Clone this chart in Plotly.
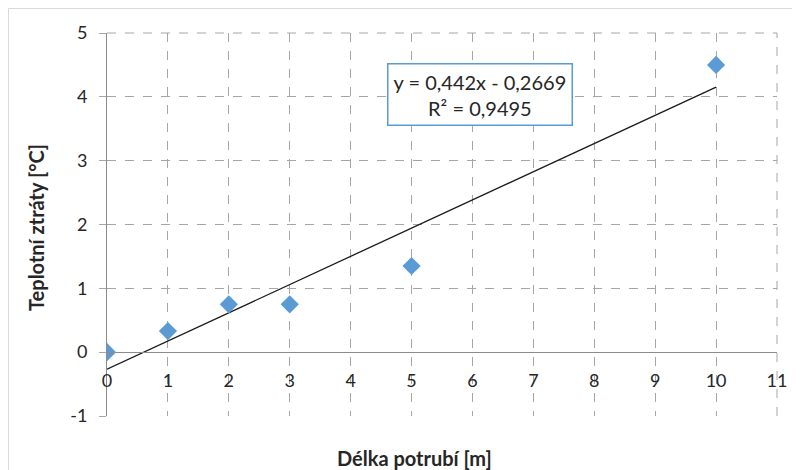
import plotly.graph_objects as go

# Data
lengths_m = [0, 1, 2, 3, 5, 10]
temp_loss_c = [0, 0.33, 0.75, 0.75, 1.35, 4.5]
trend_slope = 0.442
trend_intercept = -0.2669
trend_r2 = 0.9495
trend_x = [0, 10]
x_ticks = list(range(0, 12))
y_ticks = list(range(-1, 6))
y_tick_labels = [str(v) for v in y_ticks]

FONT = "Lato, 'Open Sans', sans-serif"
GRID = "#a6a6a6"
AXIS = "#8c8c8c"
OFF = 8  # page body margin

trend_y = [trend_slope * v + trend_intercept for v in trend_x]

fig = go.Figure()
fig.add_trace(go.Scatter(
    x=trend_x, y=trend_y, mode="lines",
    line=dict(color="#1a1a1a", width=1.3), xaxis="x", yaxis="y",
    hoverinfo="skip", showlegend=False))
fig.add_trace(go.Scatter(
    x=lengths_m, y=temp_loss_c, mode="markers",
    marker=dict(symbol="diamond", size=14, color="#5b9bd5"),
    xaxis="x", yaxis="y", showlegend=False))
# invisible trace on the labelled x-axis that crosses at y = 0
fig.add_trace(go.Scatter(
    x=[0, 11], y=[0, 0], mode="markers", marker=dict(opacity=0),
    xaxis="x2", yaxis="y", hoverinfo="skip", showlegend=False))

def fmt(v):
    return ("%g" % v).replace(".", ",")

eq_text = "y = %sx - %s<br>R² = %s" % (fmt(trend_slope), fmt(-trend_intercept), fmt(trend_r2))

L, T = 107 - OFF, 33 - OFF
W, H = 670, 383  # plot area size in px
FW, FH = 800 - OFF, 470 - OFF
R, B = FW - L - W, FH - T - H

fig.update_layout(
    width=FW, height=FH,
    margin=dict(l=L, r=R, t=T, b=B, autoexpand=False),
    paper_bgcolor="white", plot_bgcolor="white",
    font=dict(family=FONT, size=18, color="#262626"),
    xaxis=dict(
        range=[0, 11], tickvals=x_ticks, showticklabels=False,
        showgrid=True, gridcolor=GRID, griddash="dash", gridwidth=1,
        zeroline=False, showline=False, fixedrange=True, automargin=False,
    ),
    xaxis2=dict(
        range=[0, 11], tickvals=x_ticks, overlaying="x", anchor="free",
        position=1/6, side="bottom", showgrid=False, zeroline=False,
        showline=True, linecolor=AXIS, linewidth=1, automargin=False,
        ticks="", tickfont=dict(size=18), fixedrange=True,
        ticklabelstandoff=12,
    ),
    yaxis=dict(
        range=[-1, 5], tickvals=y_ticks, ticktext=y_tick_labels,
        showgrid=True, gridcolor=GRID, griddash="dash", gridwidth=1,
        zeroline=False, showline=True, linecolor=AXIS, linewidth=1,
        ticks="outside", ticklen=7, tickcolor=GRID, tickfont=dict(size=18),
        fixedrange=True, automargin=False, ticklabelstandoff=8,
    ),
    shapes=[
        dict(type="line", xref="paper", yref="paper", x0=0, x1=1, y0=1, y1=1,
             line=dict(color=GRID, width=1, dash="dash")),
        dict(type="line", xref="paper", yref="paper", x0=1, x1=1, y0=0, y1=1,
             line=dict(color=GRID, width=1, dash="dash")),
        dict(type="line", xref="paper", yref="paper", x0=(0.5 - L)/W, x1=(0.5 - L)/W,
             y0=-B/H, y1=(H + T - 0.5)/H, line=dict(color="#d9d9d9", width=1)),
        dict(type="line", xref="paper", yref="paper", x0=(0.5 - L)/W, x1=(W + R)/W,
             y0=(H + T - 0.5)/H, y1=(H + T - 0.5)/H, line=dict(color="#d9d9d9", width=1)),
    ],
)
fig.add_annotation(
    x=6.13, y=4.04, xref="x", yref="y", text=eq_text, showarrow=False,
    font=dict(family=FONT, size=20, color="#262626"),
    bgcolor="white", bordercolor="#5b9bd5", borderwidth=1.5, borderpad=5,
    align="center")
# axis titles
fig.add_annotation(
    x=0.5, y=-(458 - OFF - T - H)/H, xref="paper", yref="paper",
    text="<b>Délka potrubí [m]</b>",
    showarrow=False, font=dict(family=FONT, size=20, color="#262626"),
    xanchor="center", yanchor="middle", xshift=(414 - OFF - L - W/2))
fig.add_annotation(
    x=(36 - OFF - L)/W, y=0.5, xref="paper", yref="paper",
    text="<b>Teplotní ztráty [°C]</b>",
    showarrow=False, textangle=-90, font=dict(family=FONT, size=20, color="#262626"),
    xanchor="center", yanchor="middle", yshift=(T + H/2 - (228 - OFF)))

fig.write_html("out.html")
